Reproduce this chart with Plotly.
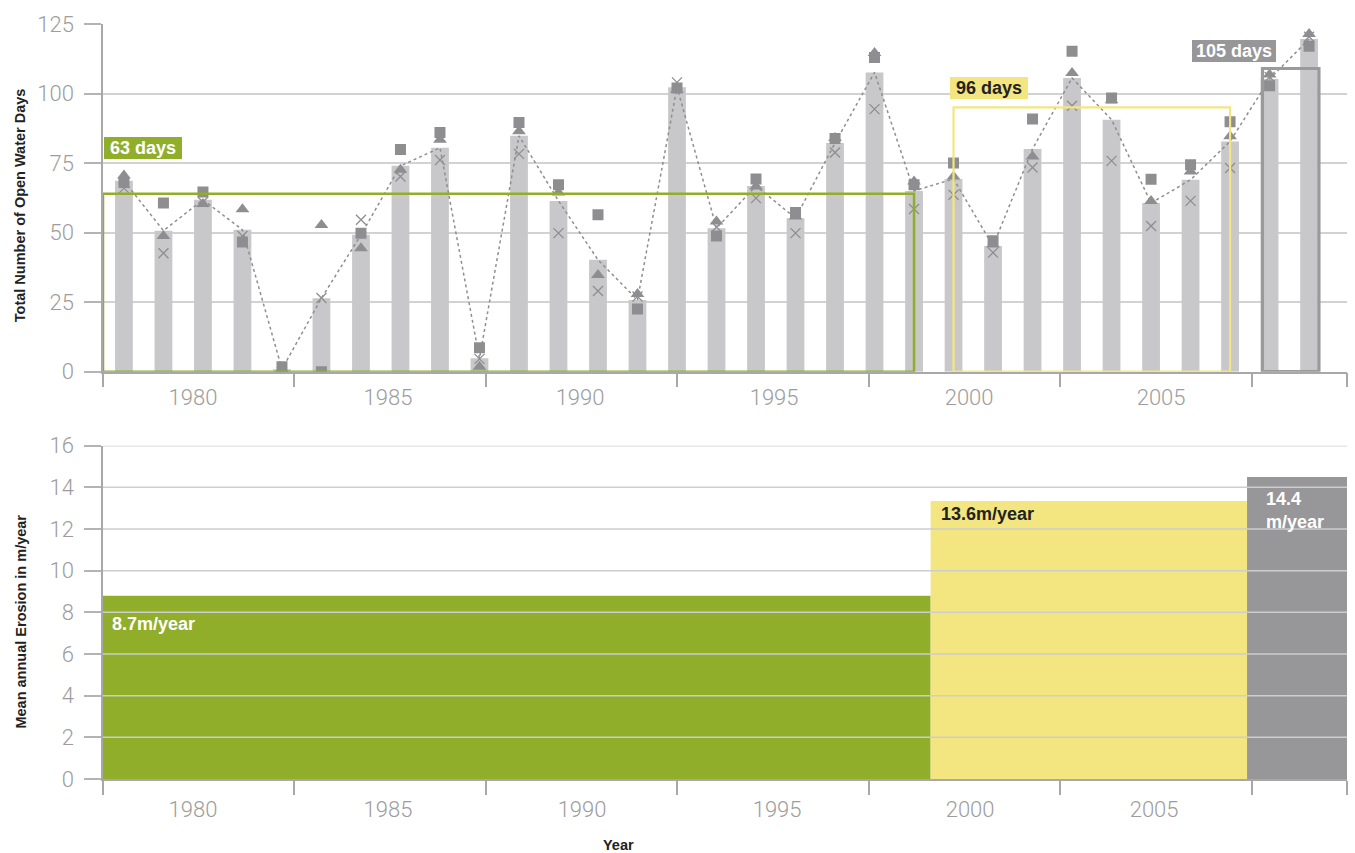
import plotly.graph_objects as go

# ---------------- data ----------------
years = list(range(1979, 2010))
mean_days = [68.6, 50.7, 61.8, 51.0, 0.9, 26.4, 49.2, 74.0, 80.5, 4.8, 84.8, 61.4, 40.2, 25.8, 102.3, 51.6,
             66.8, 55.2, 82.2, 107.6, 65.0, 69.3, 45.2, 80.1, 105.6, 90.6, 60.6, 69.0, 82.8, 105.2, 119.6]
square_days = [68.0, 60.6, 64.6, 46.6, 1.8, 0.0, 49.8, 79.9, 86.0, 8.6, 89.6, 67.2, 56.4, 22.5, 102.0, 48.8,
               69.3, 57.2, 83.8, 113.0, 67.2, 75.0, 47.1, 90.8, 115.2, 98.4, 69.2, 74.4, 89.9, 102.8, 117.0]
triangle_days = [70.5, 48.8, 60.3, 58.4, 1.0, 52.7, 44.4, 72.6, 83.4, 1.8, 86.4, 64.4, 34.8, 27.9, 101.4, 54.0,
                 66.6, 55.8, 84.0, 114.6, 68.4, 70.2, 45.7, 77.4, 107.4, 97.6, 61.4, 72.0, 84.6, 106.8, 121.4]
cross_days = [66.0, 42.6, 61.0, 48.8, 0.0, 26.5, 54.6, 70.2, 76.1, 4.6, 78.3, 49.8, 29.0, 27.0, 104.0, 52.0,
              62.4, 49.8, 78.8, 94.4, 58.5, 63.6, 42.8, 73.4, 95.6, 75.8, 52.4, 61.4, 73.2, 106.0, 120.4]

period_day_labels = ["63 days", "96 days", "105 days"]
period_box_start = [1978.47, 2000.0, 2007.82]
period_box_end = [1999.0, 2007.0, 2009.25]
period_box_top = [64, 95, 109]

erosion_labels = ["8.7m/year", "13.6m/year", "14.4<br>m/year"]
erosion_start = [1978.47, 1999.42, 2007.43]
erosion_end = [1999.42, 2007.43, 2009.96]
erosion_rate = [8.8, 13.35, 14.5]

year_tick_labels = ["1980", "1985", "1990", "1995", "2000", "2005"]

# ---------------- styling helpers ----------------
X0, X1 = 1978.47, 2009.96
PX_PER_YEAR = 39.5
def px2yr(p):
    return X0 + (p - 103) / PX_PER_YEAR

GREEN = "#91ae2b"
YELLOW = "#f3e680"
GREY_BOX = "#97979a"
BAR = "#c8c8ca"
MARK = "#8e8e90"
TICKFONT = dict(family="Roboto, sans-serif", size=22, color="#9d9d9d", weight=300)
BOLD = "Liberation Sans, Arial, sans-serif"

tick_marks = [px2yr(p) for p in [103.3, 294.3, 485.7, 677, 869, 1060.3, 1251.7, 1346.7]]
top_label_pos = [px2yr(p) for p in [193, 388, 580, 774, 969, 1161]]
bot_label_pos = [px2yr(p) for p in [193, 388, 582, 777, 970, 1154]]
colors = [GREEN, YELLOW, GREY_BOX]

fig = go.Figure()

# ---- top chart ----
fig.add_trace(go.Bar(x=years, y=mean_days, width=0.45, marker=dict(color=BAR, line=dict(width=0)),
                     xaxis="x", yaxis="y", showlegend=False))
fig.add_trace(go.Scatter(x=years, y=mean_days, mode="lines", line=dict(color=MARK, width=1.5, dash="dot"),
                         xaxis="x", yaxis="y", showlegend=False))
fig.add_trace(go.Scatter(x=years, y=triangle_days, mode="markers",
                         marker=dict(symbol="triangle-up", size=12, color=MARK),
                         xaxis="x", yaxis="y", showlegend=False))
fig.add_trace(go.Scatter(x=years, y=square_days, mode="markers",
                         marker=dict(symbol="square", size=11, color=MARK),
                         xaxis="x", yaxis="y", showlegend=False))
fig.add_trace(go.Scatter(x=years, y=cross_days, mode="markers",
                         marker=dict(symbol="x-thin-open", size=10, color=MARK, line=dict(color=MARK, width=1.3)),
                         xaxis="x", yaxis="y", showlegend=False))

# ---- bottom chart ----
fig.add_trace(go.Bar(x=[(s + e) / 2 for s, e in zip(erosion_start, erosion_end)],
                     y=erosion_rate,
                     width=[e - s for s, e in zip(erosion_start, erosion_end)],
                     marker=dict(color=colors, line=dict(width=0)),
                     xaxis="x2", yaxis="y2", showlegend=False))

shapes = []
# period boxes in top chart
box_widths = [2.5, 2.2, 3.2]
box_line_colors = [GREEN, YELLOW, "#9a9a9c"]
for s, e, t, c, w in zip(period_box_start, period_box_end, period_box_top, box_line_colors, box_widths):
    shapes.append(dict(type="rect", xref="x", yref="y", x0=s, x1=e, y0=0, y1=t,
                       line=dict(color=c, width=w), fillcolor="rgba(0,0,0,0)", layer="above"))
# gridlines drawn over the bottom bars
for v in range(2, 17, 2):
    shapes.append(dict(type="line", xref="x2 domain", yref="y2", x0=0, x1=1, y0=v, y1=v,
                       line=dict(color="#cdcdcd", width=1.5), layer="above"))

annotations = []
day_label_pos = [(px2yr(104), 84.45, "white", 78), (px2yr(950), 106.05, "#222222", 78),
                 (px2yr(1191.7), 119.36, "white", 84)]
for (x, y, fc, w), txt, bg in zip(day_label_pos, period_day_labels, colors):
    annotations.append(dict(x=x, y=y, xref="x", yref="y", xanchor="left", yanchor="top",
                            text="<b>%s</b>" % txt, showarrow=False, bgcolor=bg, width=w, height=22,
                            borderpad=0, borderwidth=0, align="center",
                            font=dict(family=BOLD, size=18, color=fc)))

ero_label_pos = [(px2yr(110), 7.45, "white"), (px2yr(939), 12.7, "#222222"), (px2yr(1264), 12.9, "white")]
for (x, y, fc), txt in zip(ero_label_pos, erosion_labels):
    annotations.append(dict(x=x, y=y, xref="x2", yref="y2", xanchor="left", yanchor="middle",
                            text="<b>%s</b>" % txt, showarrow=False, align="left",
                            font=dict(family=BOLD, size=18, color=fc)))

# axis titles
annotations.append(dict(x=-0.0667, y=0.760, xref="paper", yref="paper", textangle=-90,
                        xanchor="center", yanchor="middle",
                        text="<b>Total Number of Open Water Days</b>", showarrow=False,
                        font=dict(family=BOLD, size=14.5, color="#222222")))
annotations.append(dict(x=-0.0667, y=0.2086, xref="paper", yref="paper", textangle=-90,
                        xanchor="center", yanchor="middle",
                        text="<b>Mean annual Erosion in m/year</b>", showarrow=False,
                        font=dict(family=BOLD, size=14.5, color="#222222")))
annotations.append(dict(x=px2yr(618), y=-0.0874, xref="x2", yref="paper",
                        xanchor="center", yanchor="middle",
                        text="<b>Year</b>", showarrow=False,
                        font=dict(family=BOLD, size=14.5, color="#222222")))

xaxis_common = dict(range=[X0, X1], showgrid=False, zeroline=False, showline=True, automargin=False,
                    linecolor="#a8a8a8", linewidth=1.5, tickmode="array",
                    ticktext=year_tick_labels, ticks="outside", ticklen=14,
                    tickcolor="rgba(0,0,0,0)", tickfont=TICKFONT,
                    minor=dict(tickmode="array", tickvals=tick_marks, ticks="outside", ticklen=14,
                               tickcolor="#a8a8a8", tickwidth=1.5, showgrid=False))
yaxis_common = dict(showgrid=True, gridcolor="#d2d2d2", gridwidth=1.5, zeroline=False, showline=True,
                    automargin=False,
                    linecolor="#a8a8a8", linewidth=1.5, ticks="outside", ticklen=17,
                    tickcolor="#b4b4b4", tickwidth=1.5, tickfont=TICKFONT, ticklabelstandoff=6)

fig.update_layout(
    template="none",
    width=1355, height=853,
    margin=dict(l=103, r=8, t=24, b=74, autoexpand=False),
    paper_bgcolor="white", plot_bgcolor="white",
    barmode="overlay",
    xaxis=dict(xaxis_common, domain=[0, 1], anchor="y", tickvals=top_label_pos, ticklabelstandoff=-9),
    yaxis=dict(yaxis_common, domain=[0.5395, 1.0], range=[0, 125], tickvals=[0, 25, 50, 75, 100, 125]),
    xaxis2=dict(xaxis_common, domain=[0, 1], anchor="y2", tickvals=bot_label_pos, ticklabelstandoff=-4),
    yaxis2=dict(yaxis_common, domain=[0, 0.4415], range=[0, 16], tickvals=list(range(0, 17, 2)),
                showgrid=False),
    shapes=shapes,
    annotations=annotations,
)

fig.write_html("out.html", config={"displayModeBar": False},
               post_script="document.body.style.margin='0';")
